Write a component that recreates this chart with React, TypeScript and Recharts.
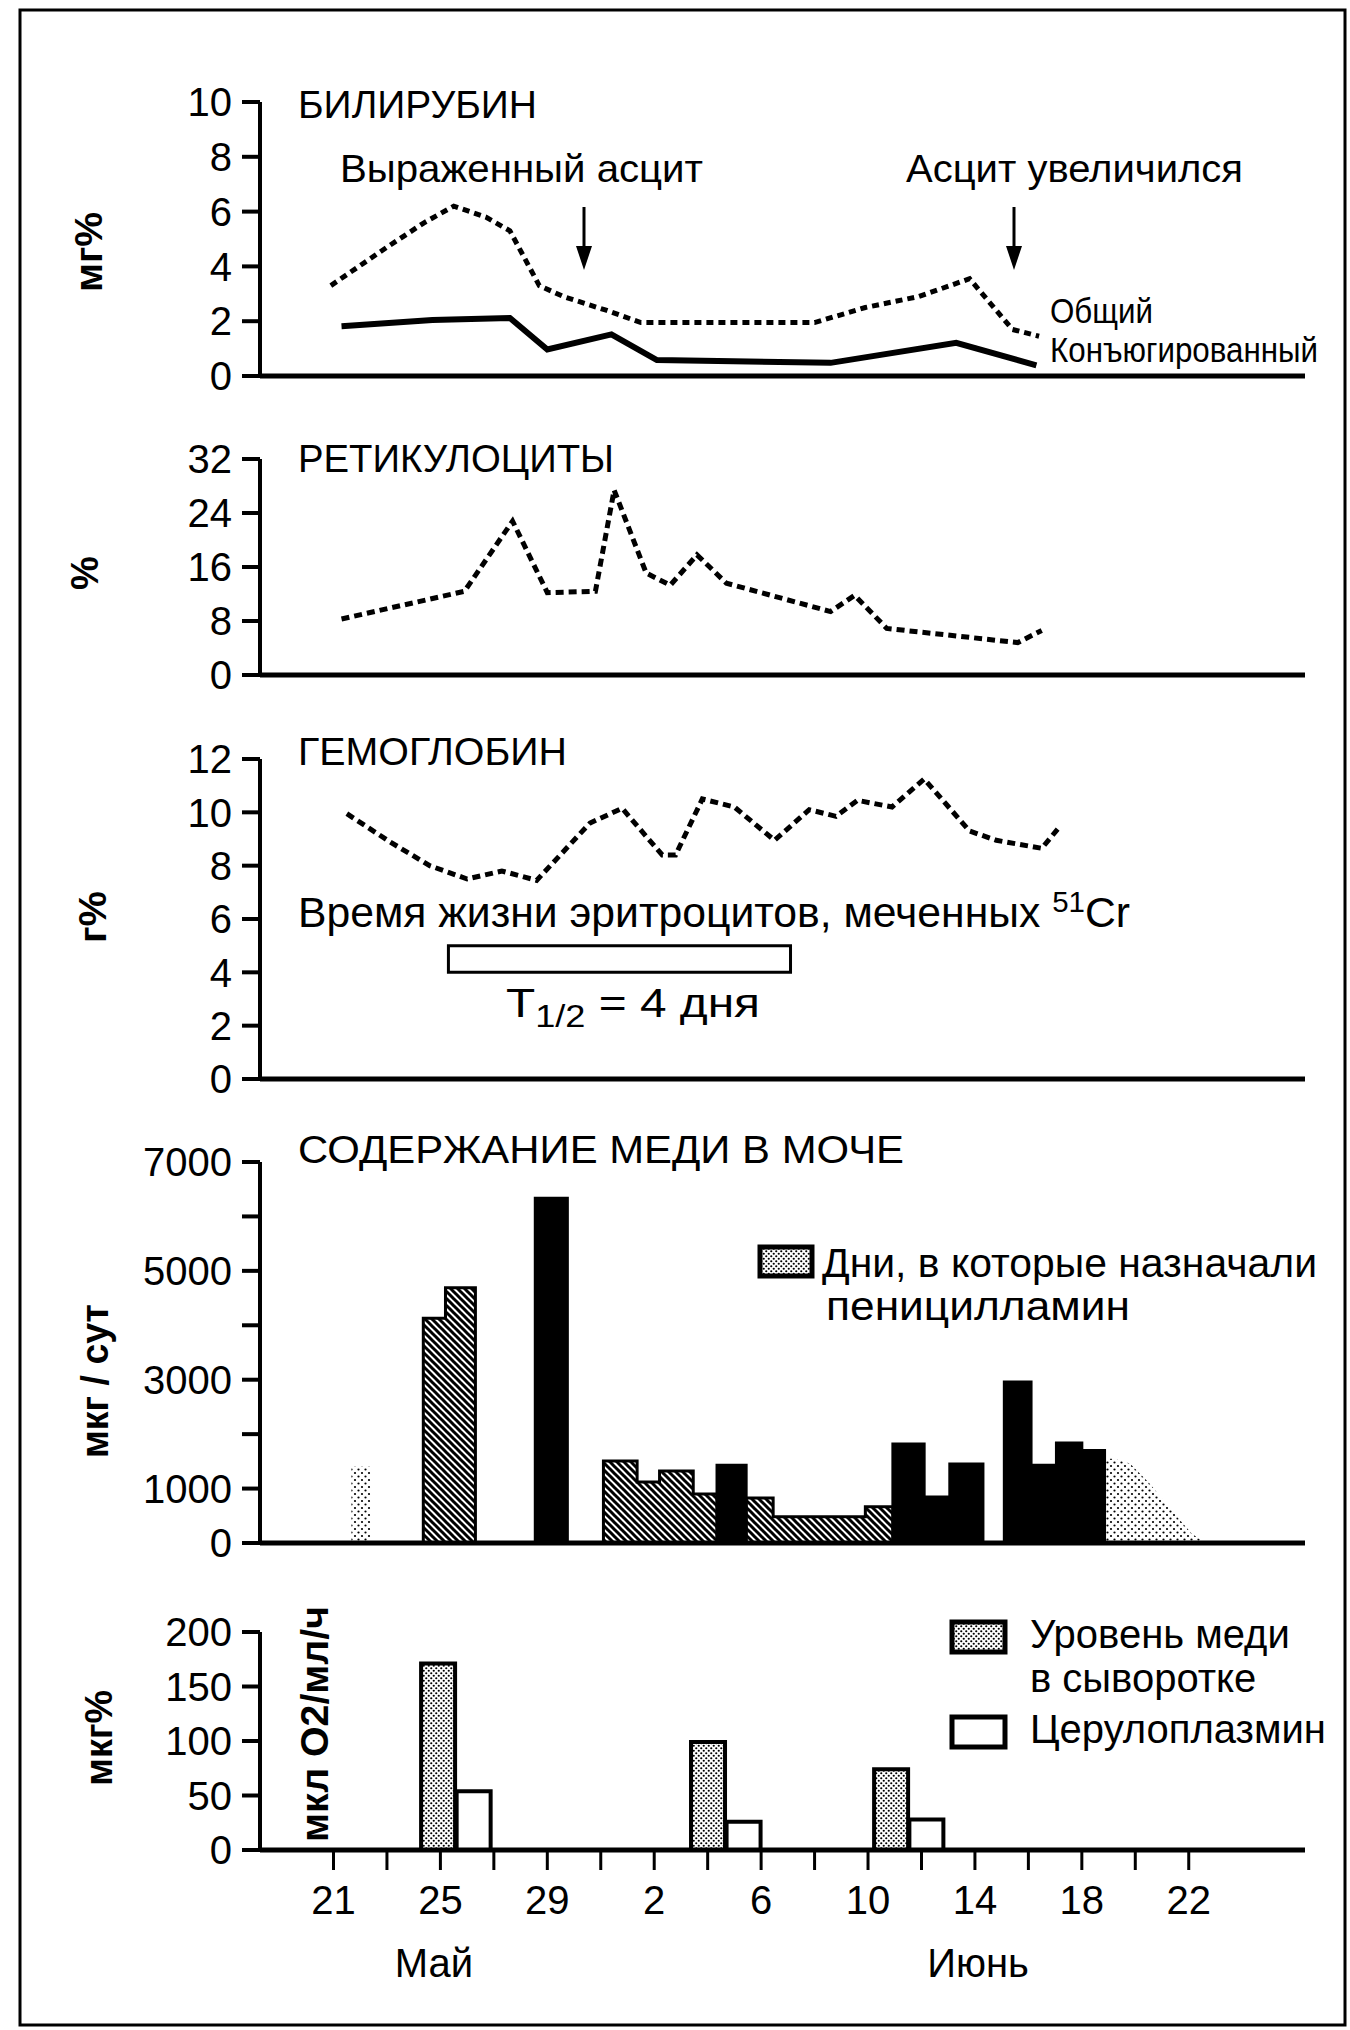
import React from "react";
import { ComposedChart, Line, Area, Bar, XAxis, YAxis, ReferenceArea } from "recharts";

// Days are counted from 1 May, so June d = 31 + d.
const FONT = '"Liberation Sans", Arial, sans-serif';
const X_DOMAIN: [number, number] = [18.25, 57.35];
const W = 1350;

const xTickDays = [21, 23, 25, 27, 29, 31, 33, 35, 37, 39, 41, 43, 45, 47, 49, 51, 53];
const xLabelDays = [21, 25, 29, 33, 37, 41, 45, 49, 53];
const xLabels = ["21", "25", "29", "2", "6", "10", "14", "18", "22"];

// Bilirubin, mg%
const bilTotalDays = [20.9, 23.0, 24.4, 25.5, 26.7, 27.6, 28.7, 29.6, 31.2, 32.5, 39.0, 40.9, 42.9, 44.8, 46.4, 47.4];
const bilTotalVals = [3.3, 4.7, 5.6, 6.2, 5.8, 5.3, 3.3, 2.9, 2.4, 1.95, 1.95, 2.5, 2.9, 3.55, 1.7, 1.45];
const bilConjDays = [21.3, 24.7, 27.6, 29.0, 31.4, 33.1, 39.6, 44.3, 47.3];
const bilConjVals = [1.82, 2.04, 2.12, 0.97, 1.52, 0.58, 0.48, 1.21, 0.39];

// Reticulocytes, %
const reticDays = [21.3, 25.9, 27.7, 29.0, 30.8, 31.5, 32.7, 33.6, 34.6, 35.7, 39.6, 40.5, 41.7, 46.6, 47.5];
const reticVals = [8.3, 12.4, 22.8, 12.2, 12.4, 27.4, 15.1, 13.3, 17.8, 13.6, 9.4, 11.8, 6.9, 4.8, 6.6];

// Hemoglobin, g%
const hbDays = [21.5, 23.1, 24.6, 26.0, 27.3, 28.6, 30.6, 31.8, 33.3, 33.8, 34.8, 36.0, 37.5, 38.8, 39.8, 40.6, 41.9, 43.1, 44.8, 45.8, 47.5, 48.2];
const hbVals = [9.95, 8.9, 8.0, 7.5, 7.8, 7.45, 9.6, 10.15, 8.4, 8.4, 10.5, 10.2, 8.95, 10.1, 9.85, 10.45, 10.2, 11.25, 9.3, 8.95, 8.65, 9.5];
const crBox = { from: 25.3, to: 38.1, low: 4, high: 5 };

// Urine copper, mcg/day (step series: value holds from this edge to the next)
const hatchEdges = [24.36, 24.36, 25.19, 26.31, 31.1, 32.36, 33.2, 34.46, 35.35, 36.44, 37.45, 40.9, 41.93];
const hatchVals = [0, 4130, 4690, 0, 1505, 1120, 1325, 900, 0, 825, 480, 665, 0];
const blackEdges = [28.55, 28.55, 29.75, 35.35, 36.44, 41.93, 43.1, 44.06, 45.3, 46.1, 47.1, 48.05, 49.0, 49.85];
const blackVals = [0, 6335, 0, 1430, 0, 1820, 845, 1450, 0, 2960, 1430, 1835, 1700, 0];
const dotBarEdges = [21.67, 22.38];
const dotBarVals = [1400, 0];
const tailDays = [49.85, 50.2, 50.8, 51.5, 52.05, 52.6, 53.1, 53.6];
const tailVals = [1550, 1550, 1460, 1110, 790, 460, 180, 0];

// Serum copper (mcg%) and ceruloplasmin
const serumDays = [24.9, 35.0, 41.85];
const serumVals = [171, 99, 74];
const ceruloDays = [26.23, 36.33, 43.17];
const ceruloVals = [54, 26, 28];

const rows = (xs: number[], ys: number[]) => xs.map((x, i) => ({ day: x, v: ys[i] }));

const serumTable = [
  ...serumDays.map((d, i) => ({ day: d, serum: serumVals[i] })),
  ...ceruloDays.map((d, i) => ({ day: d, cerulo: ceruloVals[i] })),
].sort((a, b) => a.day - b.day);

const tickFont = { fill: "#000", fontSize: 40, fontFamily: FONT };

function Panel({ top, bottom, yMax, yTicks, yFormat, showX, data, children }: any) {
  const mt = 30;
  const xH = showX ? 100 : 2;
  const mb = showX ? 10 : 30;
  const height = bottom - top + mt + xH + mb;
  return (
    <div style={{ position: "absolute", left: 0, top: top - mt }}>
      <ComposedChart width={W} height={height} data={data} margin={{ top: mt, right: 45, bottom: mb, left: 200 }}>
        <defs>
          <pattern id={"hatch" + top} patternUnits="userSpaceOnUse" width="7" height="7">
            <rect width="7" height="7" fill="#fff" />
            <path d="M0,0 L7,7 M-1,6 L1,8 M6,-1 L8,1" stroke="#000" strokeWidth="3" />
          </pattern>
          <pattern id={"dense" + top} patternUnits="userSpaceOnUse" width="5" height="5">
            <rect width="5" height="5" fill="#fff" />
            <circle cx="1.25" cy="1.25" r="1.1" fill="#000" />
            <circle cx="3.75" cy="3.75" r="1.1" fill="#000" />
          </pattern>
          <pattern id={"light" + top} patternUnits="userSpaceOnUse" width="7" height="7">
            <rect width="7" height="7" fill="#fff" />
            <circle cx="1.5" cy="1.5" r="1.1" fill="#000" />
            <circle cx="5" cy="5" r="1.1" fill="#000" />
          </pattern>
        </defs>
        {showX ? (
          <XAxis
            type="number"
            dataKey="day"
            domain={X_DOMAIN}
            allowDataOverflow
            ticks={xTickDays}
            interval={0}
            height={xH}
            tickSize={20}
            tickMargin={16}
            axisLine={{ stroke: "#000", strokeWidth: 5 }}
            tickLine={{ stroke: "#000", strokeWidth: 3 }}
            tick={tickFont}
            tickFormatter={(d: number) => {
              const i = xLabelDays.indexOf(d);
              return i >= 0 ? xLabels[i] : "";
            }}
          />
        ) : (
          <XAxis
            type="number"
            dataKey="day"
            domain={X_DOMAIN}
            allowDataOverflow
            ticks={[]}
            tick={false}
            tickLine={false}
            height={xH}
            axisLine={{ stroke: "#000", strokeWidth: 5 }}
          />
        )}
        <YAxis
          type="number"
          domain={[0, yMax]}
          allowDataOverflow
          ticks={yTicks}
          interval={0}
          width={60}
          tickSize={18}
          tickMargin={10}
          axisLine={{ stroke: "#000", strokeWidth: 4 }}
          tickLine={{ stroke: "#000", strokeWidth: 4 }}
          tick={tickFont}
          tickFormatter={yFormat}
        />
        {children}
      </ComposedChart>
    </div>
  );
}

const lineProps = { type: "linear" as const, stroke: "#000", dot: false, activeDot: false, isAnimationActive: false, dataKey: "v" };

function Overlay() {
  const t = { fontFamily: FONT, fill: "#000" };
  const yLab = (x: number, y: number, s: string, len?: number) => (
    <text
      key={s}
      x={x}
      y={y}
      transform={`rotate(-90 ${x} ${y})`}
      textAnchor="middle"
      dominantBaseline="central"
      fontSize={38}
      fontWeight="bold"
      textLength={len}
      lengthAdjust={len ? "spacingAndGlyphs" : undefined}
      {...t}
    >
      {s}
    </text>
  );
  const arrow = (x: number) => (
    <g key={x}>
      <line x1={x} y1={207} x2={x} y2={250} stroke="#000" strokeWidth={3} />
      <polygon points={`${x - 8},246 ${x + 8},246 ${x},270`} fill="#000" />
    </g>
  );
  const fit = (len: number) => ({ textLength: len, lengthAdjust: "spacingAndGlyphs" as const });
  return (
    <svg width={W} height={2030} style={{ position: "absolute", left: 0, top: 0, pointerEvents: "none" }}>
      <defs>
        <pattern id="ovDense" patternUnits="userSpaceOnUse" width="5" height="5">
          <rect width="5" height="5" fill="#fff" />
          <circle cx="1.25" cy="1.25" r="1.1" fill="#000" />
          <circle cx="3.75" cy="3.75" r="1.1" fill="#000" />
        </pattern>
      </defs>
      <rect x={20} y={10} width={1325} height={2015} fill="none" stroke="#000" strokeWidth={3} />

      <text x={298} y={118} fontSize={39} {...fit(239)} {...t}>БИЛИРУБИН</text>
      <text x={340} y={182} fontSize={39} {...fit(363)} {...t}>Выраженный асцит</text>
      <text x={906} y={182} fontSize={39} {...fit(337)} {...t}>Асцит увеличился</text>
      {arrow(584)}
      {arrow(1014)}
      <text x={1050} y={323} fontSize={35} {...fit(103)} {...t}>Общий</text>
      <text x={1050} y={362} fontSize={35} {...fit(268)} {...t}>Конъюгированный</text>

      <text x={298} y={472} fontSize={39} {...fit(316)} {...t}>РЕТИКУЛОЦИТЫ</text>

      <text x={298} y={765} fontSize={39} {...fit(269)} {...t}>ГЕМОГЛОБИН</text>
      <text x={298} y={927} fontSize={42} {...fit(832)} {...t}>
        Время жизни эритроцитов, меченных <tspan dy={-15} fontSize={29}>51</tspan>
        <tspan dy={15}>Cr</tspan>
      </text>
      <text x={506} y={1017} fontSize={41} {...fit(254)} {...t}>
        T<tspan dy={10} fontSize={31}>1/2</tspan>
        <tspan dy={-10}> = 4 дня</tspan>
      </text>

      <text x={298} y={1163} fontSize={39} {...fit(606)} {...t}>СОДЕРЖАНИЕ МЕДИ В МОЧЕ</text>
      <rect x={760} y={1247} width={52} height={29} fill="url(#ovDense)" stroke="#000" strokeWidth={5} />
      <text x={822} y={1277} fontSize={40} {...fit(495)} {...t}>Дни, в которые назначали</text>
      <text x={826} y={1320} fontSize={40} {...fit(304)} {...t}>пеницилламин</text>

      <rect x={952} y={1622} width={53} height={30} fill="url(#ovDense)" stroke="#000" strokeWidth={5} />
      <text x={1030} y={1648} fontSize={40} {...t}>Уровень меди</text>
      <text x={1030} y={1692} fontSize={40} {...t}>в сыворотке</text>
      <rect x={952} y={1717} width={53} height={30} fill="#fff" stroke="#000" strokeWidth={5} />
      <text x={1030} y={1743} fontSize={40} {...t}>Церулоплазмин</text>

      <text x={434} y={1977} fontSize={40} textAnchor="middle" {...t}>Май</text>
      <text x={978} y={1977} fontSize={40} textAnchor="middle" {...t}>Июнь</text>

      {yLab(89, 252, "мг%", 80)}
      {yLab(85, 573, "%")}
      {yLab(93, 917, "г%", 52)}
      {yLab(95, 1381, "мкг / сут", 154)}
      {yLab(99, 1738, "мкг%", 96)}
      {yLab(315, 1724, "мкл О2/мл/ч", 236)}
    </svg>
  );
}

export default function App() {
  return (
    <div style={{ position: "absolute", left: 0, top: 0, width: W, height: 2030, background: "#fff", overflow: "hidden" }}>
      <Panel top={102} bottom={376} yMax={10} yTicks={[0, 2, 4, 6, 8, 10]}>
        <Line {...lineProps} data={rows(bilTotalDays, bilTotalVals)} strokeWidth={5} strokeDasharray="7 5" />
        <Line {...lineProps} data={rows(bilConjDays, bilConjVals)} strokeWidth={6} />
      </Panel>

      <Panel top={459} bottom={675} yMax={32} yTicks={[0, 8, 16, 24, 32]}>
        <Line {...lineProps} data={rows(reticDays, reticVals)} strokeWidth={5} strokeDasharray="8 5" />
      </Panel>

      <Panel top={759} bottom={1079} yMax={12} yTicks={[0, 2, 4, 6, 8, 10, 12]}>
        <Line {...lineProps} data={rows(hbDays, hbVals)} strokeWidth={5} strokeDasharray="8 5" />
        <ReferenceArea x1={crBox.from} x2={crBox.to} y1={crBox.low} y2={crBox.high} fill="#fff" fillOpacity={1} stroke="#000" strokeWidth={3} />
      </Panel>

      <Panel
        top={1162}
        bottom={1543}
        yMax={7000}
        yTicks={[0, 1000, 2000, 3000, 4000, 5000, 6000, 7000]}
        yFormat={(v: number) => ([0, 1000, 3000, 5000, 7000].includes(v) ? String(v) : "")}
      >
        <Area data={rows(dotBarEdges, dotBarVals)} dataKey="v" type="stepAfter" fill="url(#light1162)" fillOpacity={1} stroke="none" dot={false} activeDot={false} isAnimationActive={false} />
        <Area data={rows(tailDays, tailVals)} dataKey="v" type="linear" fill="url(#light1162)" fillOpacity={1} stroke="none" dot={false} activeDot={false} isAnimationActive={false} />
        <Area data={rows(hatchEdges, hatchVals)} dataKey="v" type="stepAfter" fill="url(#hatch1162)" fillOpacity={1} stroke="#000" strokeWidth={3} dot={false} activeDot={false} isAnimationActive={false} />
        <Area data={rows(blackEdges, blackVals)} dataKey="v" type="stepAfter" fill="#000" fillOpacity={1} stroke="#000" strokeWidth={3} dot={false} activeDot={false} isAnimationActive={false} />
      </Panel>

      <Panel top={1632} bottom={1850} yMax={200} yTicks={[0, 50, 100, 150, 200]} showX data={serumTable}>
        <Bar dataKey="serum" stackId="s" barSize={34} fill="url(#dense1632)" stroke="#000" strokeWidth={4} isAnimationActive={false} />
        <Bar dataKey="cerulo" stackId="s" barSize={34} fill="#fff" stroke="#000" strokeWidth={4} isAnimationActive={false} />
      </Panel>

      <Overlay />
    </div>
  );
}
